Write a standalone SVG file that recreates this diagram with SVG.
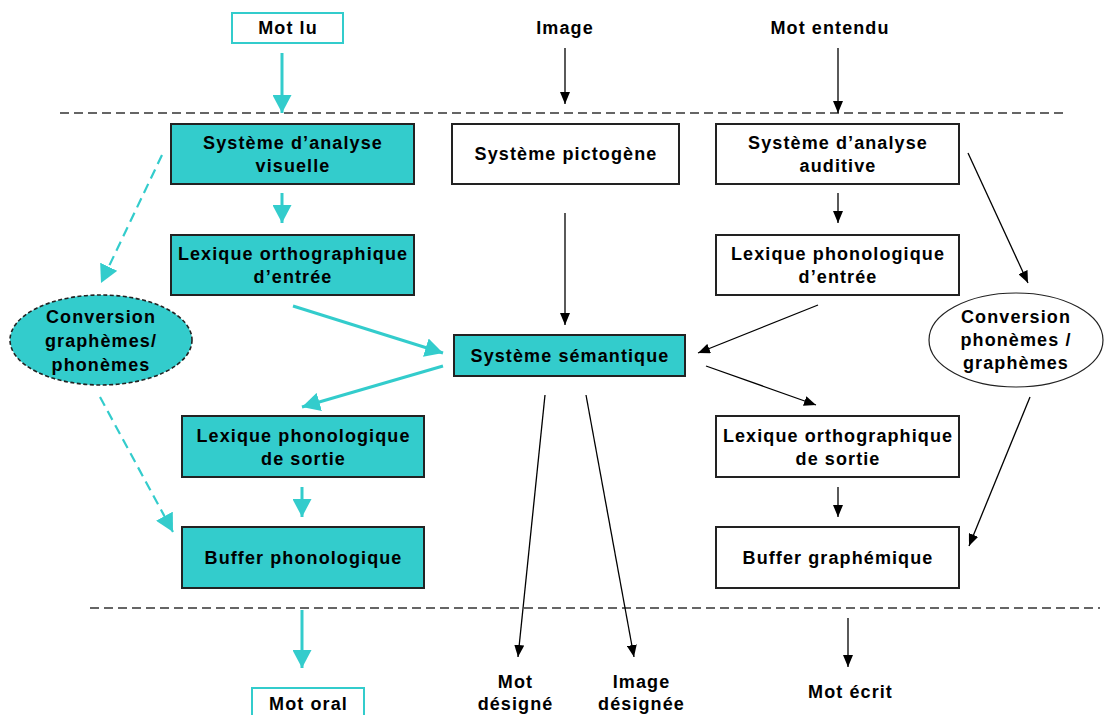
<svg xmlns="http://www.w3.org/2000/svg" width="1104" height="715" viewBox="0 0 1104 715">
  <style>
    text { font-family: "Liberation Sans", Arial, sans-serif; font-weight: bold; font-size: 18px; fill: #000; text-anchor: middle; letter-spacing: 1.1px; }
    .cyan { fill: #33CCCC; stroke: #222; stroke-width: 2; }
    .plain { fill: #fff; stroke: #222; stroke-width: 2; }
    .term { fill: #fff; stroke: #33CCCC; stroke-width: 2; }
    .sep { stroke: #333; stroke-width: 1.6; stroke-dasharray: 9 5; fill: none; }
    .blk { stroke: #000; stroke-width: 1.3; fill: none; marker-end: url(#ab); }
    .cy { stroke: #33CCCC; stroke-width: 3; fill: none; marker-end: url(#ac); }
    .cyd { stroke: #33CCCC; stroke-width: 2.2; fill: none; stroke-dasharray: 10 6; marker-end: url(#ac); }
  </style>
  <defs>
    <marker id="ab" viewBox="0 0 12 10" refX="12" refY="5" markerWidth="12" markerHeight="10" markerUnits="userSpaceOnUse" orient="auto">
      <path d="M0,0 L12,5 L0,10 z" fill="#000"/>
    </marker>
    <marker id="ac" viewBox="0 0 18 19" refX="18" refY="9.5" markerWidth="18" markerHeight="19" markerUnits="userSpaceOnUse" orient="auto">
      <path d="M0,0 L18,9.5 L0,19 z" fill="#33CCCC"/>
    </marker>
  </defs>

  <!-- separators between input, processing and output -->
  <line class="sep" x1="60" y1="113" x2="1068" y2="113"/>
  <line class="sep" x1="90" y1="608" x2="1100" y2="608"/>

  <g id="connectors">
    <!-- reading route -->
    <line class="cy" x1="282" y1="53" x2="282" y2="113"/>
    <line class="cy" x1="282" y1="193" x2="282" y2="223"/>
    <line class="cy" x1="293" y1="306" x2="443" y2="353"/>
    <line class="cy" x1="443" y1="366" x2="302" y2="407"/>
    <line class="cy" x1="302" y1="487" x2="302" y2="517"/>
    <line class="cy" x1="302" y1="610" x2="302" y2="668"/>
    <line class="cyd" x1="162" y1="155" x2="101" y2="283"/>
    <line class="cyd" x1="100" y1="397" x2="173" y2="532"/>
    <!-- picture and hearing routes -->
    <line class="blk" x1="565" y1="48" x2="565" y2="104"/>
    <line class="blk" x1="838" y1="48" x2="838" y2="113"/>
    <line class="blk" x1="838" y1="193" x2="838" y2="223"/>
    <line class="blk" x1="565" y1="213" x2="565" y2="325"/>
    <line class="blk" x1="818" y1="305" x2="698" y2="353"/>
    <line class="blk" x1="706" y1="366" x2="816" y2="405"/>
    <line class="blk" x1="968" y1="153" x2="1028" y2="283"/>
    <line class="blk" x1="1030" y1="397" x2="969" y2="546"/>
    <line class="blk" x1="838" y1="487" x2="838" y2="517"/>
    <line class="blk" x1="545" y1="395" x2="518" y2="657"/>
    <line class="blk" x1="586" y1="395" x2="634" y2="657"/>
    <line class="blk" x1="848" y1="618" x2="848" y2="667"/>
  </g>

  <!-- inputs -->
  <g id="mot-lu">
    <rect class="term" x="232" y="13" width="111" height="30"/>
    <text x="288" y="34">Mot lu</text>
  </g>
  <g id="image">
    <text x="565" y="34">Image</text>
  </g>
  <g id="mot-entendu">
    <text x="830" y="34">Mot entendu</text>
  </g>

  <!-- reading side -->
  <g id="analyse-visuelle">
    <rect class="cyan" x="171" y="124" width="243" height="60"/>
    <text x="293" y="149">Système d’analyse</text>
    <text x="293" y="172">visuelle</text>
  </g>
  <g id="lexique-ortho-entree">
    <rect class="cyan" x="171" y="235" width="243" height="60"/>
    <text x="293" y="260">Lexique orthographique</text>
    <text x="293" y="283">d’entrée</text>
  </g>
  <g id="conversion-graphemes">
    <ellipse cx="101" cy="340" rx="91" ry="45" fill="#33CCCC" stroke="#222" stroke-width="1.6" stroke-dasharray="4 2.5"/>
    <text x="101" y="323">Conversion</text>
    <text x="101" y="347">graphèmes/</text>
    <text x="101" y="371">phonèmes</text>
  </g>
  <g id="semantique">
    <rect class="cyan" x="454" y="335" width="231" height="41"/>
    <text x="570" y="362">Système sémantique</text>
  </g>
  <g id="lexique-phono-sortie">
    <rect class="cyan" x="182" y="416" width="242" height="61"/>
    <text x="303.5" y="442">Lexique phonologique</text>
    <text x="303.5" y="465">de sortie</text>
  </g>
  <g id="buffer-phono">
    <rect class="cyan" x="182" y="527" width="242" height="61"/>
    <text x="303.5" y="564">Buffer phonologique</text>
  </g>

  <!-- picture and hearing side -->
  <g id="pictogene">
    <rect class="plain" x="452" y="124" width="227" height="60"/>
    <text x="566" y="160">Système pictogène</text>
  </g>
  <g id="analyse-auditive">
    <rect class="plain" x="716" y="124" width="243" height="60"/>
    <text x="838" y="149">Système d’analyse</text>
    <text x="838" y="172">auditive</text>
  </g>
  <g id="lexique-phono-entree">
    <rect class="plain" x="716" y="235" width="243" height="60"/>
    <text x="838" y="260">Lexique phonologique</text>
    <text x="838" y="283">d’entrée</text>
  </g>
  <g id="conversion-phonemes">
    <ellipse cx="1016" cy="340" rx="87" ry="47" fill="#fff" stroke="#222" stroke-width="1.2"/>
    <text x="1016" y="323">Conversion</text>
    <text x="1016" y="346">phonèmes /</text>
    <text x="1016" y="369">graphèmes</text>
  </g>
  <g id="lexique-ortho-sortie">
    <rect class="plain" x="716" y="416" width="243" height="61"/>
    <text x="838" y="442">Lexique orthographique</text>
    <text x="838" y="465">de sortie</text>
  </g>
  <g id="buffer-graph">
    <rect class="plain" x="716" y="527" width="243" height="61"/>
    <text x="838" y="564">Buffer graphémique</text>
  </g>

  <!-- outputs -->
  <g id="mot-oral">
    <rect class="term" x="252" y="688" width="112" height="32"/>
    <text x="308.5" y="710">Mot oral</text>
  </g>
  <g id="mot-designe">
    <text x="515.5" y="688">Mot</text>
    <text x="515.5" y="710">désigné</text>
  </g>
  <g id="image-designee">
    <text x="641.5" y="688">Image</text>
    <text x="641.5" y="710">désignée</text>
  </g>
  <g id="mot-ecrit">
    <text x="850.5" y="698">Mot écrit</text>
  </g>
</svg>
